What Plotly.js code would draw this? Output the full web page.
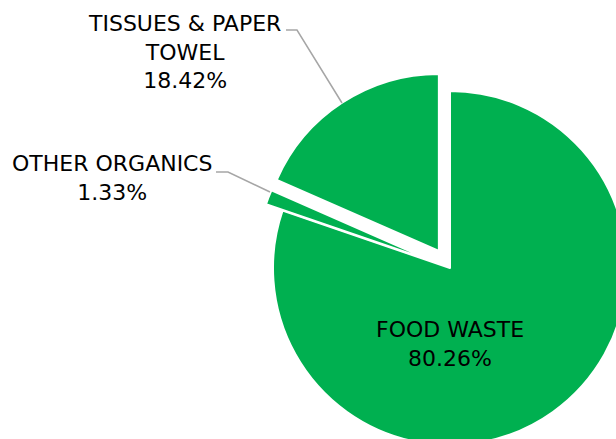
<!DOCTYPE html>
<html>
<head>
<meta charset="utf-8">
<script src="https://cdn.plot.ly/plotly-3.0.1.min.js"></script>
<style>
html,body{margin:0;padding:0;overflow:hidden;background:#fff;width:616px;height:439px;}
#chart{position:absolute;left:0;top:0;}
</style>
</head>
<body>
<div id="chart"></div>
<script>
// Data
const categories = ['FOOD WASTE', 'OTHER ORGANICS', 'TISSUES & PAPER TOWEL'];
const labelText = ['FOOD WASTE', 'OTHER ORGANICS', 'TISSUES & PAPER<br>TOWEL'];
const values = [80.26, 1.33, 18.42];
const pulls = [0, 0.10, 0.115];

// Canvas larger than the window so the pie bleeds off the right/bottom edges
const W = 900, H = 536;
const px = x => x / W;
const py = y => 1 - y / H;

const font = {family: 'DejaVu Sans, Verdana, sans-serif', size: 22, color: '#000000'};
const labelPos = [
  {x: 450, y: 344},
  {x: 112, y: 177.5},
  {x: 184, y: 51.5}
];

const annotations = categories.map((c, i) => ({
  xref: 'paper', yref: 'paper',
  x: px(labelPos[i].x), y: py(labelPos[i].y),
  xanchor: 'center', yanchor: 'middle',
  text: labelText[i] + '<br>' + values[i].toFixed(2) + '%',
  showarrow: false,
  align: 'center',
  font: font
}));

function path(pts) {
  return pts.map((p, i) => (i ? 'L' : 'M') + px(p[0]).toFixed(5) + ',' + py(p[1]).toFixed(5)).join(' ');
}
const leaderStyle = {color: '#A6A6A6', width: 1.5};
const shapes = [
  {type: 'path', xref: 'paper', yref: 'paper', path: path([[286, 30], [297, 30], [342, 103]]), line: leaderStyle},
  {type: 'path', xref: 'paper', yref: 'paper', path: path([[216, 172], [228, 172], [270, 192]]), line: leaderStyle}
];

const trace = {
  type: 'pie',
  labels: categories,
  values: values,
  sort: false,
  direction: 'clockwise',
  rotation: 0,
  pull: pulls,
  marker: {colors: ['#00B050', '#00B050', '#00B050'], line: {color: '#FFFFFF', width: 2}},
  textinfo: 'none',
  hoverinfo: 'skip',
  showlegend: false,
  domain: {x: [0.2807, 0.7193], y: [0.1317, 0.8683]}
};

const layout = {
  width: W, height: H,
  margin: {l: 0, r: 0, t: 0, b: 0},
  paper_bgcolor: '#FFFFFF',
  plot_bgcolor: '#FFFFFF',
  showlegend: false,
  annotations: annotations,
  shapes: shapes
};

Plotly.newPlot('chart', [trace], layout, {staticPlot: true, displayModeBar: false});
</script>
</body>
</html>
